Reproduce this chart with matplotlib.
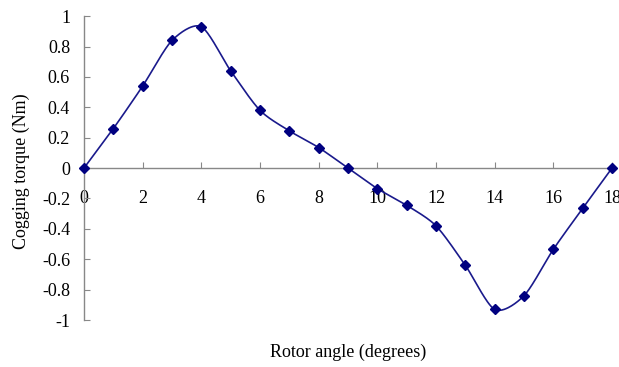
import numpy as np
import matplotlib
matplotlib.use('Agg')
import matplotlib.pyplot as plt

# Cogging torque vs rotor angle
angulo = [0, 1, 2, 3, 4, 5, 6, 7, 8, 9, 10, 11, 12, 13, 14, 15, 16, 17, 18]
torque = [0, 0.26, 0.54, 0.84, 0.93, 0.64, 0.38, 0.245, 0.135, 0,
          -0.135, -0.245, -0.38, -0.64, -0.93, -0.84, -0.535, -0.265, 0]
xticks = [0, 2, 4, 6, 8, 10, 12, 14, 16, 18]
yticks = [-1, -0.8, -0.6, -0.4, -0.2, 0, 0.2, 0.4, 0.6, 0.8, 1]

plt.rcParams['font.family'] = ['Liberation Serif', 'DejaVu Serif']


def curva_suave(x, y, n=30, tension=0.8):
    # Catmull-Rom (con tension) para dibujar la linea suavizada entre los puntos
    x = np.asarray(x, float)
    y = np.asarray(y, float)
    px = np.concatenate([[2 * x[0] - x[1]], x, [2 * x[-1] - x[-2]]])
    py = np.concatenate([[2 * y[0] - y[1]], y, [2 * y[-1] - y[-2]]])
    xs, ys = [], []
    t = np.linspace(0, 1, n, endpoint=False)
    h00 = 2 * t ** 3 - 3 * t ** 2 + 1
    h10 = t ** 3 - 2 * t ** 2 + t
    h01 = -2 * t ** 3 + 3 * t ** 2
    h11 = t ** 3 - t ** 2
    for i in range(1, len(px) - 2):
        for p, out in ((px, xs), (py, ys)):
            m1 = tension * 0.5 * (p[i + 1] - p[i - 1])
            m2 = tension * 0.5 * (p[i + 2] - p[i])
            out.extend(h00 * p[i] + h10 * m1 + h01 * p[i + 1] + h11 * m2)
    xs.append(x[-1])
    ys.append(y[-1])
    return np.array(xs), np.array(ys)


fig = plt.figure(figsize=(6.19, 3.67), dpi=100)
ax = fig.add_axes([0.1357, 0.128, 0.853, 0.828])

xs, ys = curva_suave(angulo, torque)
ax.plot(xs, ys, color='#1a1a8c', linewidth=1.2, clip_on=False)
ax.plot(angulo, torque, linestyle='none', marker='D', markersize=5.5,
        color='#000080', clip_on=False, zorder=3)

ax.set_xlim(0, 18)
ax.set_ylim(-1, 1)
ax.set_xticks(xticks)
ax.set_yticks(yticks)
ax.set_yticklabels([('%g' % v) for v in yticks])

for lado in ['top', 'right']:
    ax.spines[lado].set_visible(False)
ax.spines['left'].set_position(('data', 0))
ax.spines['bottom'].set_position(('data', 0))
for lado in ['left', 'bottom']:
    ax.spines[lado].set_color('#888888')
    ax.spines[lado].set_linewidth(1.0)

ax.tick_params(axis='x', direction='in', length=4.5, color='#888888',
               labelsize=13, pad=16)
ax.tick_params(axis='y', direction='in', length=4.5, color='#888888',
               labelsize=13, pad=10)

ax.set_xlabel('Rotor angle (degrees)', fontsize=13, va='center')
ax.xaxis.set_label_coords(0.5, -0.105)
ax.set_ylabel('Cogging torque (Nm)', fontsize=13, va='center')
ax.yaxis.set_label_coords(-0.118, 0.49)

plt.savefig('out.png', dpi=100)
